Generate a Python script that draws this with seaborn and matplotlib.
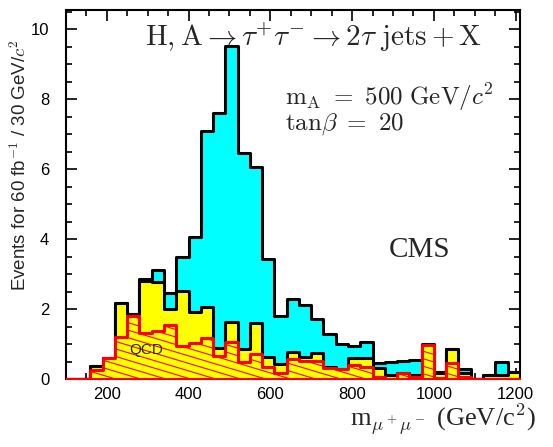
import numpy as np
import pandas as pd
import matplotlib
matplotlib.use("Agg")
import matplotlib.pyplot as plt
from matplotlib.path import Path
import seaborn as sns

# 30 GeV bins from 100 to 1210 GeV/c^2
bin_lo = 100
bin_hi = 1210
bin_width = 30

# total = signal + all backgrounds (cyan)
total = [0, 0, 0.37, 0.60, 2.18, 1.85, 2.85, 3.13, 2.47, 3.49,
         4.05, 7.09, 7.59, 9.51, 6.45, 6.07, 3.43, 1.81, 2.30, 2.12,
         1.71, 1.30, 1.00, 0.94, 1.07, 0.45, 0.50, 0.52, 0.54, 1.00,
         0.20, 0.85, 0.28, 0.0, 0.12, 0.48, 0.21]
# all backgrounds (yellow)
background = [0, 0, 0.37, 0.60, 2.18, 1.85, 2.80, 2.77, 1.99, 2.52,
              1.92, 2.06, 0.90, 1.64, 0.85, 1.61, 0.64, 0.43, 0.78, 0.62,
              0.75, 0.35, 0.29, 0.59, 0.59, 0.33, 0.12, 0.16, 0.12, 0.97,
              0.16, 0.85, 0.16, 0.0, 0.12, 0.13, 0.21]
# QCD only (red hatched)
qcd = [0, 0, 0.26, 0.59, 1.21, 1.81, 1.32, 1.38, 1.54, 0.95,
       1.02, 1.16, 0.67, 1.07, 0.50, 0.71, 0.35, 0.16, 0.56, 0.52,
       0.52, 0.33, 0.28, 0.40, 0.35, 0.05, 0.0, 0.16, 0.07, 0.97,
       0.02, 0.47, 0.07, 0.0, 0.0, 0.0, 0.0]

centers = bin_lo + bin_width * (np.arange(len(total)) + 0.5)
df = pd.DataFrame({'mass': centers, 'total': total,
                   'background': background, 'qcd': qcd})

sns.set_style("ticks")
plt.rcParams['font.family'] = ['Liberation Sans', 'DejaVu Sans']
plt.rcParams['mathtext.fontset'] = 'cm'

fig = plt.figure(figsize=(5.53, 4.47), dpi=100)
ax = fig.add_axes([0.119, 0.152, 0.821, 0.826])

hist_kw = dict(data=df, x='mass', binwidth=bin_width, binrange=(bin_lo, bin_hi),
               element='step', fill=True, alpha=1, linewidth=2.2, ax=ax)
sns.histplot(weights='total', color='#00ffff', edgecolor='black', **hist_kw)
sns.histplot(weights='background', color='#ffff00', edgecolor='black', **hist_kw)
sns.histplot(weights='qcd', color='#ffff00', edgecolor='red', zorder=3, **hist_kw)

# shallow red hatching clipped to the QCD area
qcd_fill = ax.collections[-1]
clip = Path.make_compound_path(*qcd_fill.get_paths())
w_px, h_px = 454.0, 369.0
for c in np.arange(0, 540, 7.5):
    xs = np.array([0.0, 1.0])
    ys = (c - 0.3 * xs * w_px) / h_px
    ln, = ax.plot(xs, ys, transform=ax.transAxes, color='red', lw=0.8, zorder=3.1)
    ln.set_clip_path(clip, ax.transData)

ax.set_xlim(100, 1210)
ax.set_ylim(0, 10.55)
ax.set_xticks([200, 400, 600, 800, 1000, 1200])
ax.set_xticks(np.arange(100, 1210, 50), minor=True)
ax.set_yticks([0, 2, 4, 6, 8, 10])
ax.set_yticks(np.arange(0, 10.6, 0.5), minor=True)
ax.tick_params(which='both', direction='in', top=True, right=True, width=1.2,
               colors='black', labelsize=12)
ax.tick_params(which='major', length=8)
ax.tick_params(which='minor', length=4)
ax.tick_params(axis='x', pad=6)
ax.tick_params(axis='y', pad=12)
for s in ax.spines.values():
    s.set_linewidth(1.5)
    s.set_color('black')

serif = ['Liberation Serif', 'DejaVu Serif']
ax.set_ylabel(r'Events for 60 fb$^{-1}$ / 30 GeV/$c^2$', fontsize=13.5)
ax.yaxis.set_label_coords(-0.078, 0.58)
ax.set_xlabel(r'm$_{\mu^+\mu^-}$ (GeV/c$^2$)', fontsize=19, family=serif, loc='right')
ax.xaxis.set_label_coords(1.035, -0.06)

ax.text(0.546, 0.925, r'$\mathrm{H,A}\rightarrow\tau^{+}\tau^{-}\rightarrow 2\tau\ \mathrm{jets}+\mathrm{X}$',
        transform=ax.transAxes, ha='center', va='center', fontsize=21)
ax.text(0.482, 0.764, r'$\mathrm{m_A\ =\ 500\ GeV}/c^2$', transform=ax.transAxes,
        ha='left', va='center', fontsize=18)
ax.text(0.482, 0.69, r'$\mathrm{tan}\beta\ =\ 20$', transform=ax.transAxes,
        ha='left', va='center', fontsize=18)
ax.text(0.78, 0.35, 'CMS', transform=ax.transAxes, ha='center', va='center',
        fontsize=21, family=serif)
ax.text(0.178, 0.079, 'QCD', transform=ax.transAxes, ha='center', va='center',
        fontsize=11, zorder=4)

fig.savefig('out.png', dpi=100)
